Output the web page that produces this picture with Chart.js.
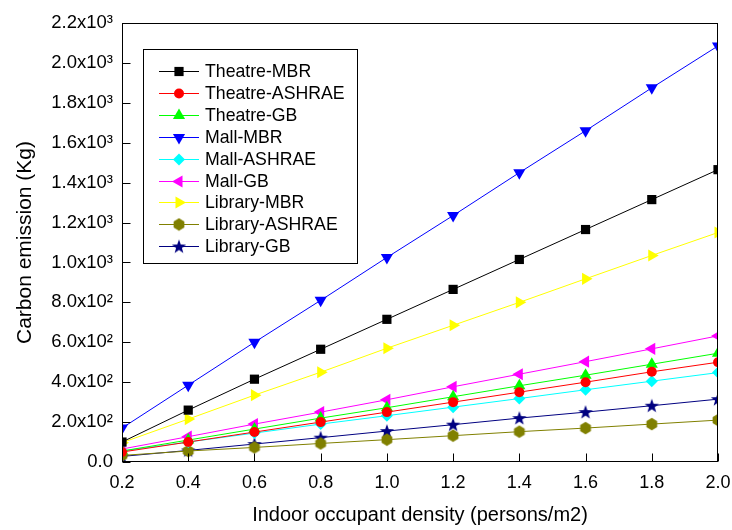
<!DOCTYPE html>
<html><head><meta charset="utf-8">
<script src="https://cdn.jsdelivr.net/npm/chart.js@4/dist/chart.umd.min.js"></script>
<style>html,body{margin:0;padding:0;background:#fff}#wrap{width:732px;height:530px}</style>
</head><body><div id="wrap"><canvas id="c" width="732" height="530"></canvas></div>
<script>
const density = [0.2, 0.4, 0.6, 0.8, 1.0, 1.2, 1.4, 1.6, 1.8, 2.0];
const theatreMBR    = [100, 260, 415, 565, 715, 865, 1015, 1165, 1315, 1465];
const theatreASHRAE = [50, 100, 150, 200, 250, 300, 350, 400, 452, 500];
const theatreGB     = [55, 110, 165, 220, 272, 327, 382, 435, 490, 545];
const mallMBR       = [170, 385, 600, 810, 1025, 1235, 1450, 1660, 1875, 2085];
const mallASHRAE    = [55, 100, 145, 190, 232, 275, 318, 362, 405, 448];
const mallGB        = [65, 127, 190, 250, 312, 377, 440, 503, 567, 632];
const libraryMBR    = [97, 215, 335, 450, 570, 685, 800, 918, 1035, 1150];
const libraryASHRAE = [33, 55, 73, 93, 112, 132, 152, 170, 190, 210];
const libraryGB     = [28, 58, 90, 122, 155, 187, 220, 250, 282, 315];
const seriesNames = ['Theatre-MBR','Theatre-ASHRAE','Theatre-GB','Mall-MBR','Mall-ASHRAE','Mall-GB','Library-MBR','Library-ASHRAE','Library-GB'];
const seriesValues = [theatreMBR, theatreASHRAE, theatreGB, mallMBR, mallASHRAE, mallGB, libraryMBR, libraryASHRAE, libraryGB];
const yTickLabels = ['0.0','2.0x10\u00B2','4.0x10\u00B2','6.0x10\u00B2','8.0x10\u00B2','1.0x10\u00B3','1.2x10\u00B3','1.4x10\u00B3','1.6x10\u00B3','1.8x10\u00B3','2.0x10\u00B3','2.2x10\u00B3'];
const xTickLabels = ['0.2','0.4','0.6','0.8','1.0','1.2','1.4','1.6','1.8','2.0'];

const colors = ['#000000','#ff0000','#00ff00','#0000ff','#00ffff','#ff00ff','#ffff00','#808000','#000080'];

function makeStar(color){
  const c=document.createElement('canvas'); c.width=16; c.height=16;
  const g=c.getContext('2d'); g.fillStyle=color; g.beginPath();
  for(let i=0;i<10;i++){const r=i%2?3.0:7.5; const a=-Math.PI/2+i*Math.PI/5; const px=8+r*Math.cos(a), py=8.5+r*Math.sin(a); i?g.lineTo(px,py):g.moveTo(px,py);}
  g.closePath(); g.fill(); return c;
}
function makeHex(color){
  const c=document.createElement('canvas'); c.width=14; c.height=14;
  const g=c.getContext('2d'); g.fillStyle=color; g.beginPath();
  for(let i=0;i<6;i++){const a=Math.PI/6+i*Math.PI/3; const px=7+6.2*Math.cos(a), py=7+6.2*Math.sin(a); i?g.lineTo(px,py):g.moveTo(px,py);}
  g.closePath(); g.fill(); return c;
}
const styles = [
  {pointStyle:'rect', rotation:0, radius:6.5},
  {pointStyle:'circle', rotation:0, radius:5},
  {pointStyle:'triangle', rotation:0, radius:7},
  {pointStyle:'triangle', rotation:180, radius:7},
  {pointStyle:'rectRot', rotation:0, radius:6},
  {pointStyle:'triangle', rotation:270, radius:7},
  {pointStyle:'triangle', rotation:90, radius:7},
  {pointStyle:makeHex('#808000'), rotation:0, radius:6},
  {pointStyle:makeStar('#000080'), rotation:0, radius:7}
];

const datasets = seriesNames.map((n,i)=>({
  label:n,
  data: density.map((x,j)=>({x:x,y:seriesValues[i][j]})),
  borderColor: colors[i], backgroundColor: colors[i],
  borderWidth:1, pointBorderWidth:0,
  pointStyle: styles[i].pointStyle, pointRotation: styles[i].rotation,
  pointRadius: styles[i].radius, pointHoverRadius: styles[i].radius,
  tension:0, clip:0
}));

const frameTicks = {
  id:'frameTicks',
  afterDraw(chart){
    const {ctx, chartArea:a, scales:{x,y}} = chart;
    ctx.save(); ctx.strokeStyle='#000'; ctx.lineWidth=1;
    const L=Math.round(a.left)+0.5, R=Math.round(a.right)-0.5, T=Math.round(a.top)+0.5, B=Math.round(a.bottom)-0.5;
    ctx.strokeRect(L,T,R-L,B-T);
    ctx.beginPath();
    x.ticks.forEach(t=>{const px=Math.round(x.getPixelForValue(t.value))+0.5; ctx.moveTo(px,B); ctx.lineTo(px,B-8);});
    y.ticks.forEach(t=>{const py=Math.round(y.getPixelForValue(t.value))+0.5; ctx.moveTo(L,py); ctx.lineTo(L+8,py);});
    ctx.stroke(); ctx.restore();
  }
};

function drawMarker(ctx, st, color, x, y){
  ctx.save(); ctx.fillStyle=color; ctx.strokeStyle=color;
  if (Chart.helpers && Chart.helpers.drawPoint){
    Chart.helpers.drawPoint(ctx,{pointStyle:st.pointStyle, rotation:st.rotation, radius:st.radius, borderWidth:0},x,y);
  }
  ctx.restore();
}

const legendBox = {
  id:'legendBox',
  afterDraw(chart){
    const ctx=chart.ctx;
    ctx.save();
    ctx.fillStyle='#fff'; ctx.fillRect(143,49,214,214);
    ctx.strokeStyle='#000'; ctx.lineWidth=1; ctx.strokeRect(143.5,49.5,214,214);
    ctx.font='17.7px "Liberation Sans", Arial, sans-serif'; ctx.textBaseline='middle'; ctx.textAlign='left';
    seriesNames.forEach((n,i)=>{
      const yy=Math.round(71+i*21.9)+0.5;
      ctx.strokeStyle=colors[i]; ctx.lineWidth=1; ctx.beginPath(); ctx.moveTo(159,yy); ctx.lineTo(199,yy); ctx.stroke();
      drawMarker(ctx, styles[i], colors[i], 179, yy);
      ctx.fillStyle='#000'; ctx.fillText(n,205,yy+1);
    });
    ctx.restore();
  }
};

const font = '"Liberation Sans", Arial, sans-serif';
new Chart(document.getElementById('c'),{
  type:'line',
  data:{datasets},
  options:{
    responsive:false, animation:false, devicePixelRatio:1,
    layout:{padding:{top:23,right:14,left:0,bottom:0}},
    plugins:{legend:{display:false}, tooltip:{enabled:false}},
    scales:{
      x:{type:'linear', min:0.2, max:2.0,
        afterFit(s){s.height=68; s.paddingLeft=0; s.paddingRight=0;},
        afterBuildTicks(s){s.ticks=density.map(v=>({value:v}));},
        grid:{display:false, drawTicks:false}, border:{display:false},
        ticks:{color:'#000', font:{family:font,size:18}, padding:10, maxRotation:0, autoSkip:false,
          callback:(v,i)=>xTickLabels[i]},
        title:{display:true, text:'Indoor occupant density (persons/m2)', color:'#000', font:{family:font,size:20}, padding:{top:3,bottom:3}}
      },
      y:{type:'linear', min:0, max:2200,
        afterFit(s){s.width=122; s.paddingTop=0; s.paddingBottom=0;},
        afterBuildTicks(s){s.ticks=yTickLabels.map((l,i)=>({value:i*200}));},
        grid:{display:false, drawTicks:false}, border:{display:false},
        ticks:{color:'#000', font:{family:font,size:18.5}, padding:9, autoSkip:false,
          callback:(v)=>yTickLabels[Math.round(v/200)]},
        title:{display:true, text:'Carbon emission (Kg)', color:'#000', font:{family:font,size:21}, padding:{top:12.4,bottom:12.4}}
      }
    }
  },
  plugins:[frameTicks, legendBox]
});
</script></body></html>
